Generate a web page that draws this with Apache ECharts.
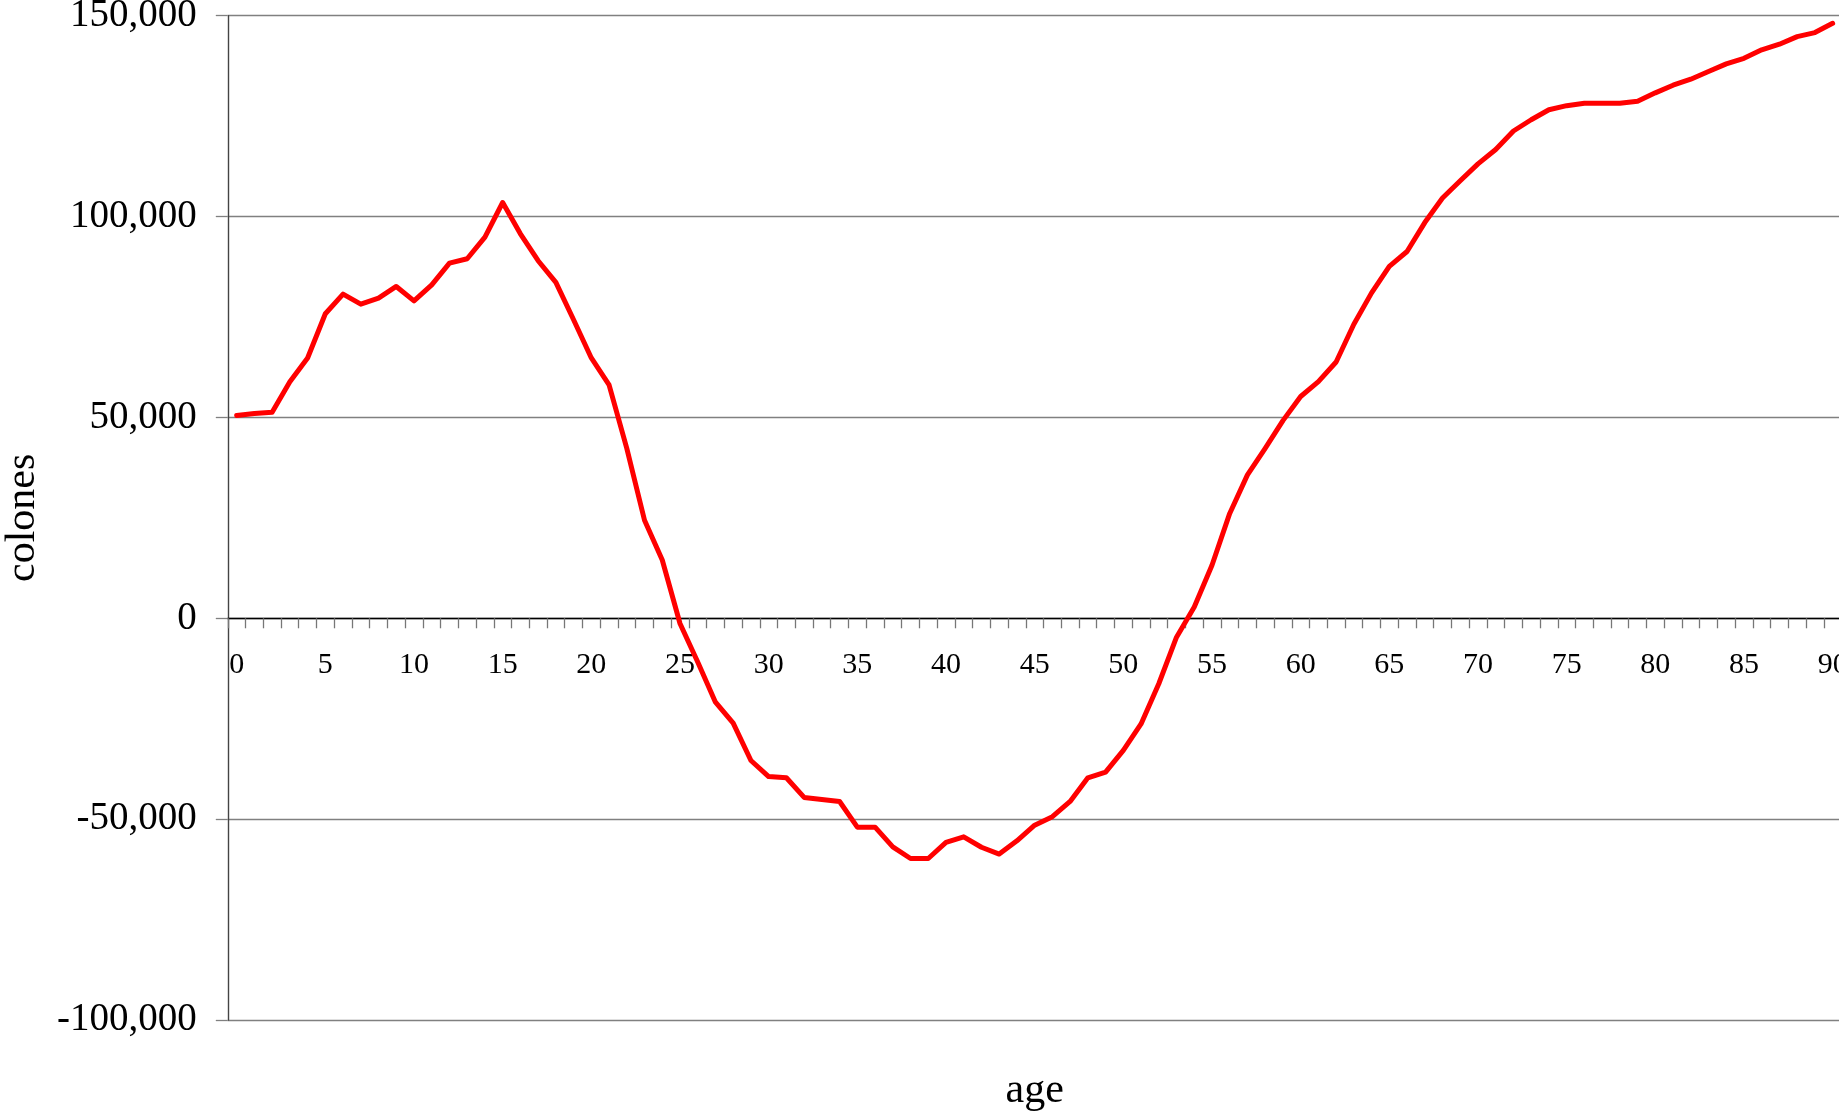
<!DOCTYPE html>
<html>
<head>
<meta charset="utf-8">
<script src="https://cdn.jsdelivr.net/npm/echarts@6/dist/echarts.min.js"></script>
<style>
html, body { margin: 0; padding: 0; background: #fff; overflow: hidden; }
#chart { width: 1842px; height: 1119px; }
</style>
</head>
<body>
<div id="chart"></div>
<script>
// Ages 0..90
const ages = [];
for (let a = 0; a <= 90; a++) ages.push(String(a));

// Values in colones
const values = [
  50500, 51000, 51300, 58900, 64800, 75800, 80700, 78200, 79700, 82600,
  79000, 83000, 88400, 89500, 94900, 103500, 95700, 89000, 83600, 74300,
  64800, 58100, 42300, 24400, 14500, -1300, -10900, -20900, -26100, -35400,
  -39400, -39700, -44600, -45100, -45600, -52000, -52000, -56900, -59800, -59800,
  -55800, -54400, -57000, -58700, -55400, -51500, -49400, -45600, -39700, -38300,
  -32900, -26300, -16300, -4700, 2800, 13200, 26100, 35700, 42300, 49200,
  55200, 58900, 63800, 73200, 81000, 87600, 91300, 98500, 104600, 108900,
  113100, 116700, 121300, 124100, 126600, 127600, 128200, 128200, 128200, 128700,
  130800, 132700, 134200, 136100, 138000, 139400, 141500, 142900, 144800, 145800,
  148100
];

const yTicks = { min: -100000, max: 150000, step: 50000 };
const xTitle = 'age';
const yTitle = 'colones';

const fontFam = '"Liberation Serif", "Times New Roman", serif';

const gridTop = 15.7, gridBottom = 99, H = 1119;
const plotH = H - gridTop - gridBottom;
// distance (px) from bottom of plot to the zero line, so the category axis sits on y = 0
const zeroFromBottom = plotH * (0 - yTicks.min) / (yTicks.max - yTicks.min);

const chart = echarts.init(document.getElementById('chart'), null, { renderer: 'canvas' });
chart.setOption({
  animation: false,
  backgroundColor: '#ffffff',
  grid: { left: 227.8, right: 0.5, top: gridTop, bottom: gridBottom, containLabel: false, outerBoundsMode: 'none' },
  xAxis: {
    type: 'category',
    data: ages,
    boundaryGap: true,
    offset: -zeroFromBottom,
    name: xTitle,
    nameLocation: 'middle',
    nameGap: 452,
    nameTextStyle: { fontFamily: fontFam, fontSize: 42, color: '#000' },
    axisLine: { onZero: false, lineStyle: { color: '#000', width: 1.3 } },
    axisTick: { show: true, interval: 0, alignWithLabel: false, length: 10, lineStyle: { color: '#777', width: 1.3 } },
    axisLabel: { interval: 4, margin: 32, fontFamily: fontFam, fontSize: 30, color: '#000' },
    splitLine: { show: false }
  },
  yAxis: {
    type: 'value',
    min: yTicks.min,
    max: yTicks.max,
    interval: yTicks.step,
    name: yTitle,
    nameLocation: 'middle',
    nameRotate: 90,
    nameGap: 184,
    nameTextStyle: { fontFamily: fontFam, fontSize: 42, color: '#000' },
    axisLine: { show: true, lineStyle: { color: '#444', width: 1.4 } },
    axisTick: { show: true, length: 12, lineStyle: { color: '#808080', width: 1.3 } },
    axisLabel: {
      margin: 31, fontFamily: fontFam, fontSize: 39, color: '#000',
      formatter: v => (v < 0 ? '-' : '') + Math.abs(v).toLocaleString('en-US')
    },
    splitLine: { show: true, lineStyle: { color: '#808080', width: 1.3 } }
  },
  series: [{
    type: 'line',
    data: values,
    showSymbol: false,
    symbol: 'none',
    lineStyle: { color: '#ff0000', width: 5, join: 'round', cap: 'round' },
    itemStyle: { color: '#ff0000' },
    z: 5
  }]
});
</script>
</body>
</html>
